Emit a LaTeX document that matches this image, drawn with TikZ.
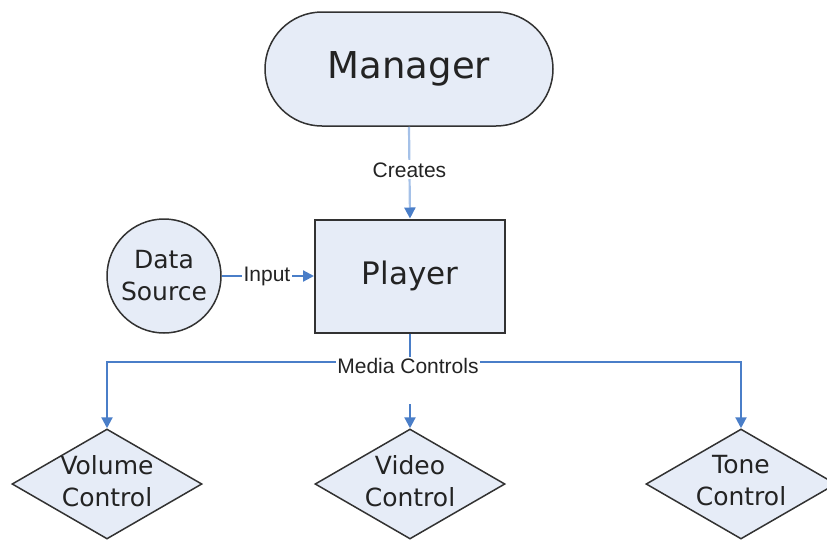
\documentclass[tikz,border=0pt]{standalone}
\usepackage{fontspec}
\setmainfont{DejaVu Sans}
\newfontfamily\labelfont{Liberation Sans}
\usetikzlibrary{shapes.geometric,arrows.meta}
\definecolor{shapefill}{RGB}{230,236,247}
\definecolor{shapeline}{RGB}{50,50,50}
\definecolor{linkblue}{RGB}{74,126,200}
\definecolor{linklight}{RGB}{165,193,232}
\definecolor{inktext}{RGB}{35,35,35}
\tikzset{
  box/.style={draw=shapeline, fill=shapefill, line width=1.5pt, text=inktext, inner sep=0pt, align=center},
  decision/.style={box, diamond, minimum width=190pt, minimum height=110pt},
  conn/.style={draw=linkblue, line width=2.2pt},
  tip/.style={-{Triangle[length=11pt,width=11pt,color=linkblue]}},
  linklabel/.style={fill=white, inner sep=2pt, text=inktext, font=\labelfont\fontsize{21}{23}\selectfont}
}
\begin{document}
\begin{tikzpicture}[x=1pt,y=-1pt]
\useasboundingbox (0,0) rectangle (827,539);

% shapes
\node[box, rectangle, rounded corners=57pt, minimum width=288pt, minimum height=114pt,
      font=\fontsize{37}{40}\selectfont] (manager) at (409,69) {Manager};
\node[box, rectangle, line width=2pt, minimum width=190pt, minimum height=113pt,
      font=\fontsize{31}{34}\selectfont] (player) at (410,276) {Player};
\node[box, circle, minimum size=114pt,
      font=\fontsize{25}{32}\selectfont] (source) at (164,276) {Data\\Source};

\node[decision] (volume) at (107,484) {};
\node[decision] (video) at (410,484) {};
\node[decision] (tone) at (741,484) {};
\node[text=inktext, align=center, font=\fontsize{25}{32}\selectfont] (volumetext) at (107,481) {Volume\\Control};
\node[text=inktext, align=center, font=\fontsize{25}{32}\selectfont] (videotext) at (410,481) {Video\\Control};
\node[text=inktext, align=center, font=\fontsize{25}{32}\selectfont] (tonetext) at (741,481) {Tone\\Control};

% connectors
\draw[draw=linklight, line width=2.2pt, tip] (manager.south) -- (player.north)
  node[linklabel, pos=0.47] (creates) {Creates};
\draw[conn, tip] (source.east) -- (player.west)
  node[linklabel, pos=0.49] (input) {Input};

\coordinate (hub) at (410,362);
\coordinate (stub) at (410,404);
\draw[conn] (player.south) -- (hub);
\draw[conn, tip] (hub) -| (volume.north);
\draw[conn, tip] (hub) -| (tone.north);
\draw[conn, tip] (stub) -- (video.north);
\node[linklabel, inner sep=1pt] (media) at (408,366) {Media Controls};
\end{tikzpicture}
\end{document}
